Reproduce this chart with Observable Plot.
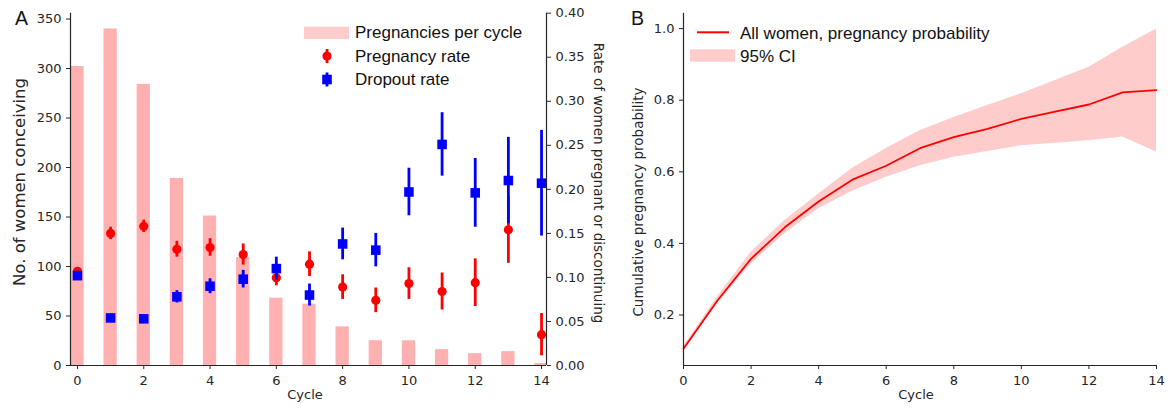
<!DOCTYPE html>
<html>
<head>
<meta charset="utf-8">
<script src="https://cdn.jsdelivr.net/npm/d3@7"></script>
<script src="https://cdn.jsdelivr.net/npm/@observablehq/plot@0.6"></script>
<style>
html, body { margin: 0; padding: 0; background: #fff; }
#chart { position: relative; width: 1175px; height: 410px; overflow: hidden; background: #fff; }
#chart > svg { position: absolute; top: 0; }
</style>
</head>
<body>
<div id="chart"></div>
<script>
// ---------- data ----------
const cycles = [0, 1, 2, 3, 4, 5, 6, 7, 8, 9, 10, 11, 12, 13, 14];
const womenConceiving = [302, 340, 284, 189, 151, 109, 68, 62, 39, 25, 25, 16, 12, 14, 2];
const pregnancyRate = [0.107, 0.150, 0.158, 0.132, 0.134, 0.126, 0.0995, 0.115, 0.089, 0.074, 0.093, 0.084, 0.094, 0.154, 0.035];
const pregnancyRateErr = [0.004, 0.007, 0.007, 0.009, 0.010, 0.012, 0.009, 0.014, 0.014, 0.014, 0.018, 0.021, 0.027, 0.038, 0.024];
const dropoutRate = [0.102, 0.054, 0.053, 0.078, 0.090, 0.098, 0.110, 0.080, 0.138, 0.131, 0.197, 0.251, 0.196, 0.210, 0.207];
const dropoutRateErr = [0.005, 0.003, 0.003, 0.007, 0.0085, 0.010, 0.013, 0.0125, 0.018, 0.019, 0.027, 0.036, 0.039, 0.049, 0.060];
const cumProb = [0.106, 0.240, 0.357, 0.445, 0.517, 0.578, 0.617, 0.666, 0.697, 0.720, 0.748, 0.768, 0.788, 0.822, 0.828];
const cumLo = [0.100, 0.232, 0.343, 0.427, 0.497, 0.546, 0.585, 0.617, 0.641, 0.657, 0.673, 0.680, 0.687, 0.697, 0.655];
const cumHi = [0.112, 0.250, 0.375, 0.464, 0.538, 0.610, 0.665, 0.715, 0.752, 0.785, 0.818, 0.855, 0.892, 0.948, 0.999];
const xTicks = [0, 2, 4, 6, 8, 10, 12, 14];
const countTicks = [0, 50, 100, 150, 200, 250, 300, 350];
const rateTicks = [0, 0.05, 0.10, 0.15, 0.20, 0.25, 0.30, 0.35, 0.40];
const probTicks = [0.2, 0.4, 0.6, 0.8, 1.0];

// ---------- styles ----------
const ink = "#262626";
const RED = "#ff0000", BLUE = "#0000ff";
const BAR = "#ffb0b0", BAND = "#ffcccc";
const baseStyle = {fontFamily: "'DejaVu Sans', sans-serif", fontSize: "13px", color: ink, background: "transparent", overflow: "visible"};

const xDomA = [-0.21, 14.15];
const geomA = {width: 620, height: 410, marginLeft: 70, marginRight: 74, marginTop: 12.7, marginBottom: 45};

const bars = cycles.map((c, i) => ({cycle: c, n: womenConceiving[i]}));
const rates = cycles.map((c, i) => ({cycle: c, p: pregnancyRate[i], pe: pregnancyRateErr[i], d: dropoutRate[i], de: dropoutRateErr[i]}));
const cum = cycles.map((c, i) => ({cycle: c, p: cumProb[i], lo: cumLo[i], hi: cumHi[i]}));

// Panel A: bars (left axis)
const A1 = Plot.plot({
  ...geomA,
  style: baseStyle,
  x: {domain: xDomA},
  y: {domain: [0, 355.9]},
  marks: [
    Plot.rectY(bars, {x1: d => d.cycle - 0.2, x2: d => d.cycle + 0.2, y: "n", fill: BAR, clip: true}),
    Plot.axisX({ticks: xTicks, tickFormat: d => String(d), tickSize: 4, tickPadding: 6, label: null}),
    Plot.axisY({ticks: countTicks, tickFormat: d => String(d), tickSize: 4, tickPadding: 5, label: null}),
    Plot.ruleX([xDomA[0]], {stroke: ink, strokeWidth: 1.2}),
    Plot.ruleY([0], {stroke: ink, strokeWidth: 1.2})
  ]
});

// Panel A: rates (right axis)
const A2 = Plot.plot({
  ...geomA,
  style: baseStyle,
  x: {domain: xDomA, axis: null},
  y: {domain: [0, 0.4]},
  marks: [
    Plot.ruleX(rates, {x: "cycle", y1: d => d.p - d.pe, y2: d => d.p + d.pe, stroke: RED, strokeWidth: 2.8}),
    Plot.dot(rates, {x: "cycle", y: "p", r: 4.6, fill: RED}),
    Plot.ruleX(rates, {x: "cycle", y1: d => d.d - d.de, y2: d => d.d + d.de, stroke: BLUE, strokeWidth: 2.8}),
    Plot.dot(rates, {x: "cycle", y: "d", symbol: "square", r: 5.4, fill: BLUE}),
    Plot.axisY({anchor: "right", ticks: rateTicks, tickFormat: d3.format(".2f"), tickSize: 4, tickPadding: 5, label: null}),
    Plot.ruleX([xDomA[1]], {stroke: ink, strokeWidth: 1.2})
  ]
});

// Panel B
const B = Plot.plot({
  width: 555, height: 410, marginLeft: 63, marginRight: 19, marginTop: 12.7, marginBottom: 45,
  style: baseStyle,
  x: {domain: [0, 14]},
  y: {domain: [0.059, 1.043]},
  marks: [
    Plot.areaY(cum, {x: "cycle", y1: "lo", y2: "hi", fill: BAND}),
    Plot.lineY(cum, {x: "cycle", y: "p", stroke: RED, strokeWidth: 1.8}),
    Plot.axisX({ticks: xTicks, tickFormat: d => String(d), tickSize: 4, tickPadding: 6, label: null}),
    Plot.axisY({ticks: probTicks, tickFormat: d3.format(".1f"), tickSize: 4, tickPadding: 5, label: null}),
    Plot.ruleX([0], {stroke: ink, strokeWidth: 1.2}),
    Plot.ruleY([0.059], {stroke: ink, strokeWidth: 1.2})
  ]
});

const chart = document.getElementById("chart");
A1.style.left = "0px";
A2.style.left = "0px";
B.style.left = "620px";
chart.appendChild(A1);
chart.appendChild(A2);
chart.appendChild(B);

// ---------- annotations: labels and legends ----------
const ann = d3.create("svg")
  .attr("width", 1175).attr("height", 410)
  .style("left", "0px").style("pointer-events", "none");
const arial = "'Liberation Sans', Arial, sans-serif";
const dejavu = "'DejaVu Sans', sans-serif";

function txt(x, y, s, opts = {}) {
  const t = ann.append("text").attr("x", x).attr("y", y).text(s)
    .attr("font-family", opts.family || dejavu)
    .attr("font-size", opts.size || 13)
    .attr("fill", opts.fill || ink)
    .attr("text-anchor", opts.anchor || "start");
  if (opts.rotate) t.attr("transform", `rotate(${opts.rotate},${x},${y})`);
  return t;
}

// panel letters
txt(15, 25, "A", {family: arial, size: 19.5, fill: "#111"});
txt(631, 25, "B", {family: arial, size: 19.5, fill: "#111"});

// axis titles
txt(25, 182, "No. of women conceiving", {size: 16.5, anchor: "middle", rotate: -90});
txt(593.5, 183, "Rate of women pregnant or discontinuing", {size: 13.5, anchor: "middle", rotate: 90});
txt(643, 202, "Cumulative pregnancy probability", {size: 13.5, anchor: "middle", rotate: -90});
txt(305, 399, "Cycle", {size: 13, anchor: "middle"});
txt(916, 399, "Cycle", {size: 13, anchor: "middle"});

// legend A
ann.append("rect").attr("x", 304).attr("y", 26.7).attr("width", 45).attr("height", 12.3).attr("fill", BAND);
txt(355, 38.3, "Pregnancies per cycle", {family: arial, size: 17, fill: "#111"});
ann.append("line").attr("x1", 327).attr("x2", 327).attr("y1", 49).attr("y2", 63).attr("stroke", RED).attr("stroke-width", 2.8);
ann.append("circle").attr("cx", 327).attr("cy", 56).attr("r", 4.6).attr("fill", RED);
txt(355, 62, "Pregnancy rate", {family: arial, size: 17, fill: "#111"});
ann.append("line").attr("x1", 327).attr("x2", 327).attr("y1", 72.5).attr("y2", 86.5).attr("stroke", BLUE).attr("stroke-width", 2.8);
ann.append("rect").attr("x", 322.2).attr("y", 74.7).attr("width", 9.6).attr("height", 9.6).attr("fill", BLUE);
txt(355, 85.3, "Dropout rate", {family: arial, size: 17, fill: "#111"});

// legend B
ann.append("line").attr("x1", 697).attr("x2", 729).attr("y1", 32.3).attr("y2", 32.3).attr("stroke", RED).attr("stroke-width", 2);
txt(740, 38.7, "All women, pregnancy probability", {family: arial, size: 17, fill: "#111"});
ann.append("rect").attr("x", 690).attr("y", 49.3).attr("width", 45).attr("height", 12.4).attr("fill", BAND);
txt(740, 61.5, "95% CI", {family: arial, size: 17, fill: "#111"});

chart.appendChild(ann.node());
</script>
</body>
</html>
